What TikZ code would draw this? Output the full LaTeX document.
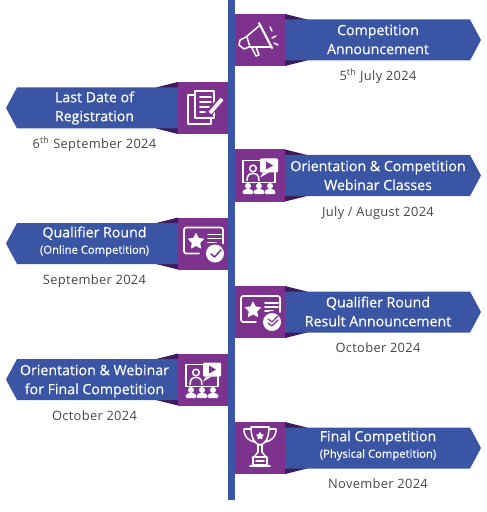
\documentclass[tikz,border=0pt]{standalone}
\usepackage{fontspec}
\setmainfont{Open Sans}
\newfontfamily\titlefont{Open Sans}[FakeBold=0.35]
\newfontfamily\datefont{Open Sans}[LetterSpace=2.5]
\usepackage{xcolor}
\usepackage{tikz}
\definecolor{bandblue}{RGB}{59,85,165}
\definecolor{boxpurple}{RGB}{125,50,142}
\definecolor{foldpurple}{RGB}{62,26,92}
\definecolor{dategray}{RGB}{70,70,70}
\newcommand{\subline}{\fontsize{9.6}{12}\selectfont}
\tikzset{
  titletext/.style={text=white,font=\titlefont\fontsize{12.1}{16.2}\selectfont,align=center,inner sep=0pt},
  datetext/.style={text=dategray,font=\datefont\fontsize{11}{13}\selectfont,inner sep=0pt,text height=8.3pt,text depth=0pt},
  iconline/.style={draw=white,line width=1.3pt,line cap=round,line join=round},
  starshape/.pic={\fill[white,rounded corners=0.6pt] (-90:9) -- (-54:4.4) -- (-18:9) -- (18:4.4) -- (54:9) -- (90:4.4)
    -- (126:9) -- (162:4.4) -- (198:9) -- (234:4.4) -- cycle;},
  megaphone/.pic={
    \draw[iconline,line width=1.8pt] (-1,-17) -- (12,8);
    \draw[iconline] (-1,-14) -- (-14,-3) -- (-20,0) -- (-21,5) -- (-16,9) -- (-11,7) -- (10,7);
    \draw[iconline] (-13,-3) -- (-10,7);
    \draw[iconline] (-8,8) -- (-4,16) -- (-1,15) -- (-4,7);
    \draw[iconline] (10,-13) -- (12,-9) (12,-2) -- (16,-4) (14,3) -- (18,5);},
  papers/.pic={
    \draw[iconline,line width=1.6pt] (-9,-13) -- (-15,-13) -- (-15,16) -- (8,16) -- (8,10);
    \draw[iconline,line width=1.6pt] (-8,-17) rectangle (11,10);
    \foreach \yy/\xx in {-11/8,-6/8,-1/6,4/2}{\draw[iconline,line width=1.5pt] (-3,\yy) -- (\xx,\yy);}
    \draw[boxpurple,line width=5.5pt] (19,-10) -- (5,7);
    \draw[white,line width=3.2pt] (19,-9) -- (7,5);},
  webinar/.pic={
    \draw[iconline] (0,-15) -- (-17,-15) -- (-17,7) -- (15,7) -- (15,-3);
    \fill[white,rounded corners=1pt] (0,-17) rectangle (18,-3);
    \fill[white] (3,-3) -- (0,2) -- (9,-3) -- cycle;
    \fill[boxpurple] (6,-14) -- (6,-6) -- (13,-10) -- cycle;
    \draw[iconline] (-7,-7) circle (3.3);
    \draw[iconline] (-13,5) .. controls (-13,-1) and (-10,-2) .. (-7,-2) .. controls (-4,-2) and (-1,-1) .. (-1,5);
    \foreach \xx in {-12,-1,10}{
      \fill[white] (\xx,10.5) circle (3);
      \fill[white,rounded corners=1pt] (\xx-5.4,18.5) -- (\xx-5.4,15.5) -- (\xx-2.4,13.5) -- (\xx+2.4,13.5) -- (\xx+5.4,15.5) -- (\xx+5.4,18.5) -- cycle;}},
  certificate/.pic={
    \draw[iconline,line width=1.5pt,rounded corners=2pt] (-4,10) -- (-19,10) -- (-19,-16) -- (20,-16) -- (20,0);
    \pic at (-7,-2) {starshape};
    \foreach \yy/\xx in {-9/18,-5/18,-1/13}{\draw[iconline] (5,\yy) -- (\xx,\yy);}
    \fill[boxpurple] (12,10) circle (11);
    \fill[white] (12,10) circle (9);},
  trophy/.pic={
    \draw[iconline] (-9,-21) -- (9,-21) .. controls (9,-9) and (5,-4) .. (0,-3) .. controls (-5,-4) and (-9,-9) .. (-9,-21);
    \draw[iconline] (-9,-19) -- (-16,-19) .. controls (-16,-11) and (-12,-8) .. (-6,-6);
    \draw[iconline] (9,-19) -- (16,-19) .. controls (16,-11) and (12,-8) .. (6,-6);
    \draw[iconline] (-2,-3) -- (-2,4) -- (-6,9) (2,-3) -- (2,4) -- (6,9);
    \draw[iconline] (-7,9) rectangle (7,17);
    \draw[iconline] (-10,18) -- (10,18);
    \draw[iconline] (-4,13) -- (4,13);
    \pic[scale=.5] at (0,-12) {starshape};}
}
\begin{document}
\begin{tikzpicture}[x=0.03cm,y=-0.03cm]
\useasboundingbox (0,0) rectangle (487,512);
\fill[bandblue] (228,0) rectangle (235,500);
% right side
\foreach \n/\yy/\ty/\l/\d in {%
  compann/40/39.5/{Competition\\Announcement}/{5\textsuperscript{th} July 2024},
  webclass/175.5/175.5/{Orientation \& Competition\\Webinar Classes}/{July / August 2024},
  qualres/312/311.5/{Qualifier Round\\Result Announcement}/{October 2024},
  finalcomp/448/445.5/{Final Competition\\[-2.2pt]{\subline (Physical Competition)}}/{November 2024}}{
  \fill[foldpurple] (285,\yy-26) -- (307,\yy-20.5) -- (307,\yy+20.5) -- (285,\yy+26) -- cycle;
  \fill[bandblue] (285,\yy-20.5) -- (470,\yy-20.5) -- (481,\yy) -- (470,\yy+20.5) -- (285,\yy+20.5) -- cycle;
  \fill[boxpurple] (235,\yy-26) rectangle (285,\yy+26);
  \node[titletext] (\n) at (378,\ty) {\l};
  \node[datetext] (\n date) at (378,\yy+35.7) {\d};}
% left side
\foreach \n/\yy/\ty/\l/\d in {%
  lastdate/108/108/{Last Date of\\Registration}/{6\textsuperscript{th} September 2024},
  qualround/243.5/241.5/{Qualifier Round\\[-2.2pt]{\subline (Online Competition)}}/{September 2024},
  finalweb/379.5/381/{Orientation \& Webinar\\for Final Competition}/{October 2024}}{
  \fill[foldpurple] (178,\yy-26) -- (156,\yy-20.5) -- (156,\yy+20.5) -- (178,\yy+26) -- cycle;
  \fill[bandblue] (178,\yy-20.5) -- (17,\yy-20.5) -- (6,\yy) -- (17,\yy+20.5) -- (178,\yy+20.5) -- cycle;
  \fill[boxpurple] (178,\yy-26) rectangle (228,\yy+26);
  \node[titletext] (\n) at (94.5,\ty) {\l};
  \node[datetext] (\n date) at (94.5,\yy+35.7) {\d};}
% icons
\pic at (260,40) {megaphone};
\pic at (203,108) {papers};
\pic at (260,175.5) {webinar};
\pic at (203,379.5) {webinar};
\pic at (203,243.5) {certificate};
\draw[boxpurple,line width=1.3pt,line cap=round,line join=round] (211,254) -- (214.5,257) -- (221,250);
\pic at (260,312) {certificate};
\draw[boxpurple,line width=1.1pt,line cap=round,line join=round] (268,319) -- (272,322) -- (278,316) (268,323) -- (272,326) -- (278,320);
\pic at (260,448) {trophy};
\end{tikzpicture}
\end{document}
